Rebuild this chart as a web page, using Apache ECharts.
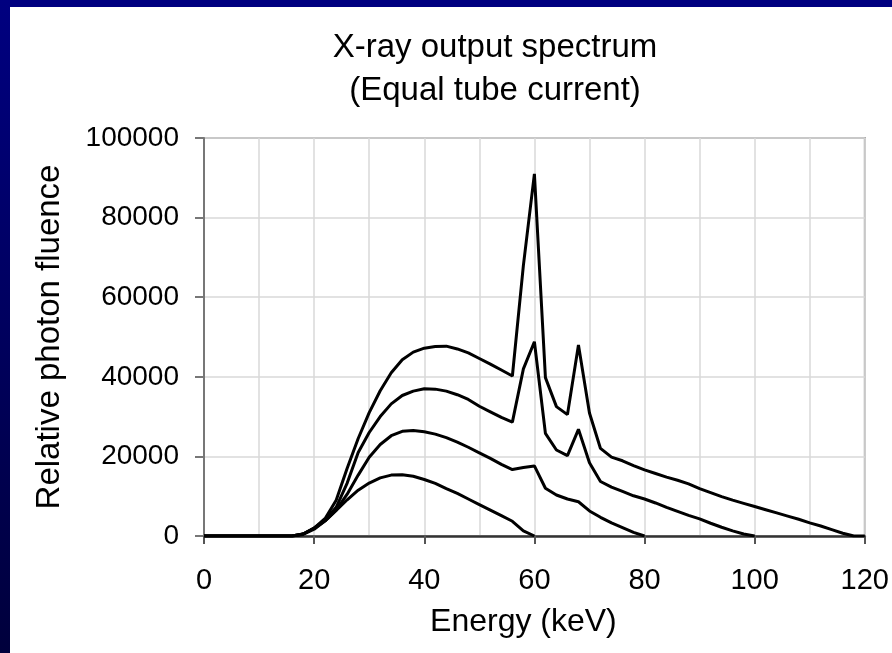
<!DOCTYPE html>
<html>
<head>
<meta charset="utf-8">
<script src="https://cdn.jsdelivr.net/npm/echarts@6/dist/echarts.min.js"></script>
<style>
html,body{margin:0;padding:0;background:#fff;}
#c{width:892px;height:653px;}
</style>
</head>
<body>
<div id="c"></div>
<script>
// Energies (keV), 2 keV steps
const energies = [0,2,4,6,8,10,12,14,16,18,20,22,24,26,28,30,32,34,36,38,40,42,44,46,48,50,52,54,56,58,60,62,64,66,68,70,72,74,76,78,80,82,84,86,88,90,92,94,96,98,100,102,104,106,108,110,112,114,116,118,120];

const kvp120 = [0,0,0,0,0,0,0,0,0,500,2000,4400,9000,17000,24500,31000,36500,41000,44300,46200,47200,47600,47700,47000,46000,44600,43200,41700,40200,68000,91000,39800,32500,30500,48000,30900,22000,19800,18900,17700,16600,15700,14800,14000,13100,11900,10900,9900,9000,8200,7400,6600,5800,5000,4200,3300,2500,1600,700,0,0];
const kvp100 = [0,0,0,0,0,0,0,0,0,500,2000,4000,7200,13300,21000,26000,30000,33200,35300,36400,37000,36900,36400,35500,34300,32600,31200,29800,28600,42000,48800,25800,21600,20200,26800,18400,13700,12300,11200,10100,9300,8300,7200,6200,5200,4300,3200,2200,1300,500,0];
const kvp80 = [0,0,0,0,0,0,0,0,0,500,1900,3800,6500,10500,15300,19800,23000,25200,26300,26500,26200,25600,24700,23600,22300,20900,19500,18000,16700,17200,17600,12000,10300,9300,8600,6300,4700,3300,2100,900,0];
const kvp60 = [0,0,0,0,0,0,0,0,0,400,1700,3800,6400,9100,11500,13300,14600,15300,15400,15000,14200,13200,11900,10700,9300,7900,6500,5100,3700,1300,0];

const xTicks = [0,20,40,60,80,100,120];
const yTicks = [0,20000,40000,60000,80000,100000];

function pairs(vals){ return vals.map((v,i)=>[energies[i], v]); }

const chart = echarts.init(document.getElementById('c'), null, {renderer:'canvas'});
const font = 'Liberation Sans, Arial, sans-serif';
const lineStyle = {color:'#000', width:3};
function mk(name, vals){
  return {name:name, type:'line', data:pairs(vals), showSymbol:false, symbol:'none',
    lineStyle:lineStyle, itemStyle:{color:'#000'}, animation:false, z:5};
}

chart.setOption({
  backgroundColor:'#fff',
  animation:false,
  graphic:[
    {type:'rect', left:0, top:0, shape:{width:892, height:7}, style:{fill:'#000080'}, z:100},
    {type:'rect', left:0, top:0, shape:{width:10, height:653},
      style:{fill:new echarts.graphic.LinearGradient(0,0,0,1,[{offset:0,color:'#000080'},{offset:1,color:'#00003c'}])}, z:100}
  ],
  title:{
    text:'X-ray output spectrum\n(Equal tube current)',
    left:490, top:21, textAlign:'center',
    textStyle:{fontFamily:font, fontSize:33, fontWeight:'normal', color:'#000', lineHeight:43}
  },
  grid:{left:204, right:24, top:138, bottom:117, show:true, borderColor:'#999', borderWidth:2, backgroundColor:'#fff'},
  xAxis:{
    type:'value', min:xTicks[0], max:xTicks[xTicks.length-1], interval:20,
    name:'Energy (keV)', nameLocation:'middle', nameGap:70,
    nameTextStyle:{fontFamily:font, fontSize:32, color:'#000', padding:[0,22,0,0]},
    axisLine:{show:true, onZero:false, lineStyle:{color:'#333', width:2.5}},
    axisTick:{show:true, length:8, lineStyle:{color:'#555', width:2}},
    axisLabel:{fontFamily:font, fontSize:29, color:'#000', margin:30, formatter:v=>String(v)},
    splitLine:{show:true, lineStyle:{color:'#d9d9d9', width:1.5}},
    minorTick:{show:false, splitNumber:2},
    minorSplitLine:{show:true, lineStyle:{color:'#d9d9d9', width:1.5}}
  },
  yAxis:{
    type:'value', min:yTicks[0], max:yTicks[yTicks.length-1], interval:20000,
    name:'Relative photon fluence', nameLocation:'middle', nameGap:138,
    nameTextStyle:{fontFamily:font, fontSize:33, color:'#000'},
    axisLine:{show:true, lineStyle:{color:'#777', width:2}},
    axisTick:{show:true, length:9, lineStyle:{color:'#777', width:2}},
    axisLabel:{fontFamily:font, fontSize:28, color:'#000', margin:25, formatter:v=>String(v)},
    splitLine:{show:true, lineStyle:{color:'#d9d9d9', width:1.5}}
  },
  series:[
    mk('120 kVp', kvp120),
    mk('100 kVp', kvp100),
    mk('80 kVp', kvp80),
    mk('60 kVp', kvp60)
  ]
});
</script>
</body>
</html>
